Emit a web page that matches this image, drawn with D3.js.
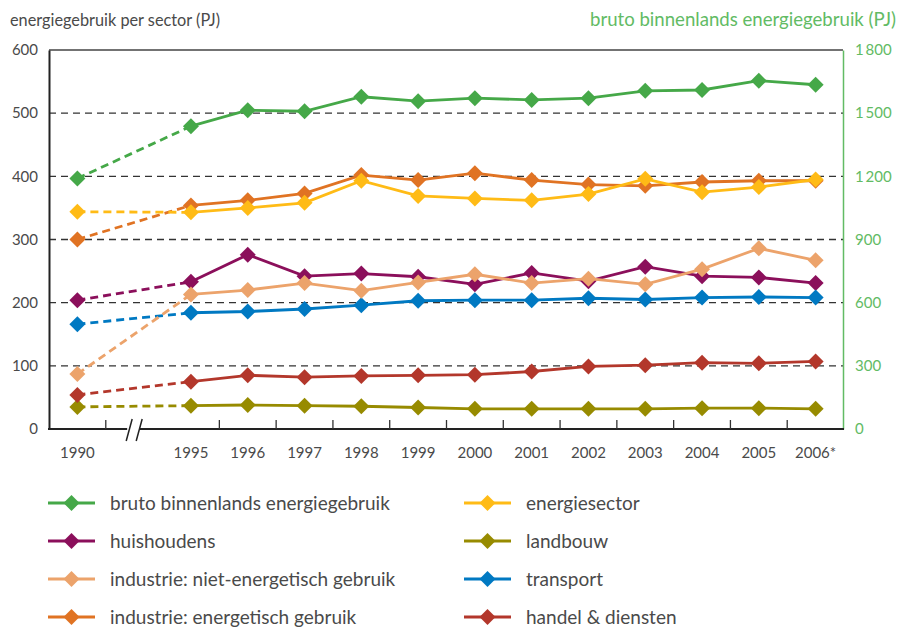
<!DOCTYPE html>
<html>
<head>
<meta charset="utf-8">
<script src="https://cdn.jsdelivr.net/npm/d3@7"></script>
<style>
  body { margin: 0; background: #fff; }
  text { font-family: Lato, "Noto Sans", sans-serif; }
</style>
</head>
<body>
<svg id="chart" width="898" height="628"></svg>
<script>
// categories on the x axis; "gap" is the empty slot where the axis is broken
var slots = ["1990", "gap", "1995", "1996", "1997", "1998", "1999", "2000", "2001", "2002", "2003", "2004", "2005", "2006*"];
var years = ["1990", "1995", "1996", "1997", "1998", "1999", "2000", "2001", "2002", "2003", "2004", "2005", "2006*"];

var leftTicks = [0, 100, 200, 300, 400, 500, 600];
var rightTicks = [0, 300, 600, 900, 1200, 1500, 1800];

// values in PJ (bruto on the right axis)
var bruto = [1190, 1438, 1514, 1509, 1578, 1557, 1571, 1563, 1571, 1606, 1610, 1654, 1635];
var energiesector = [344, 343, 350, 358, 393, 369, 365, 362, 372, 396, 375, 383, 395];
var huishoudens = [204, 233, 276, 242, 246, 241, 229, 247, 234, 257, 242, 240, 231];
var landbouw = [35, 37, 38, 37, 36, 34, 32, 32, 32, 32, 33, 33, 32];
var nietEnergetisch = [87, 213, 220, 231, 219, 232, 245, 231, 238, 229, 253, 286, 267];
var transport = [166, 184, 186, 190, 196, 203, 204, 204, 207, 205, 208, 209, 208];
var energetisch = [300, 354, 362, 373, 402, 394, 405, 394, 387, 385, 391, 393, 393];
var handel = [54, 75, 85, 82, 84, 85, 86, 91, 99, 101, 105, 104, 107];

var series = [
  { name: "bruto binnenlands energiegebruik", values: bruto, color: "#45a848", right: true },
  { name: "huishoudens", values: huishoudens, color: "#8b0f5b" },
  { name: "landbouw", values: landbouw, color: "#978b00" },
  { name: "handel & diensten", values: handel, color: "#b3372b" },
  { name: "transport", values: transport, color: "#0079c2" },
  { name: "industrie: energetisch gebruik", values: energetisch, color: "#e07323" },
  { name: "industrie: niet-energetisch gebruik", values: nietEnergetisch, color: "#eca36b" },
  { name: "energiesector", values: energiesector, color: "#ffbb16" }
];

var legendLeft = ["bruto binnenlands energiegebruik", "huishoudens", "industrie: niet-energetisch gebruik", "industrie: energetisch gebruik"];
var legendRight = ["energiesector", "landbouw", "transport", "handel & diensten"];

var svg = d3.select("#chart");
var textColor = "#4a4a4a";
var green = "#62bb64";

var x = d3.scaleBand().domain(slots).range([49, 844]).padding(0);
var y = d3.scaleLinear().domain([0, 600]).range([429, 50]);
var y2 = d3.scaleLinear().domain([0, 1800]).range([429, 50]);
var cx = function(c) { return x(c) + x.bandwidth() / 2; };

// titles
svg.append("text").attr("x", 10).attr("y", 26)
  .attr("font-size", 16.3).attr("fill", textColor)
  .text("energiegebruik per sector (PJ)");
svg.append("text").attr("x", 896).attr("y", 26)
  .attr("font-size", 18.6).attr("fill", green).attr("text-anchor", "end")
  .text("bruto binnenlands energiegebruik (PJ)");

// dashed grid lines
svg.append("g").selectAll("line")
  .data(leftTicks.filter(function(d) { return d > 0 && d < 600; }))
  .join("line")
  .attr("x1", 49).attr("x2", 843)
  .attr("y1", function(d) { return y(d); }).attr("y2", function(d) { return y(d); })
  .attr("stroke", "#333").attr("stroke-width", 1.3)
  .attr("stroke-dasharray", "7,5");

// top frame line
svg.append("line").attr("x1", 49).attr("x2", 843).attr("y1", y(600)).attr("y2", y(600))
  .attr("stroke", "#444").attr("stroke-width", 1.5);

// left axis
var leftAxis = svg.append("g").attr("transform", "translate(49,0)")
  .call(d3.axisLeft(y).tickValues(leftTicks).tickSize(0).tickPadding(11));
leftAxis.select(".domain").attr("stroke", "#222").attr("stroke-width", 2);
leftAxis.selectAll("text").attr("font-size", 15).attr("fill", textColor)
  .style("font-family", "Lato, 'Noto Sans', sans-serif");

// right axis
var rightAxis = svg.append("g").attr("transform", "translate(843,0)")
  .call(d3.axisRight(y2).tickValues(rightTicks).tickSize(0).tickPadding(12)
    .tickFormat(function(d) { return d3.format(",")(d).replace(",", "\u2009"); }));
rightAxis.select(".domain").attr("stroke", green).attr("stroke-width", 1.5);
rightAxis.selectAll("text").attr("font-size", 15).attr("fill", green)
  .style("font-family", "Lato, 'Noto Sans', sans-serif");

// bottom axis with ticks between the categories (none at the break)
svg.append("line").attr("x1", 48).attr("x2", 844).attr("y1", 429).attr("y2", 429)
  .attr("stroke", "#222").attr("stroke-width", 2);
var boundaries = slots.slice(1).map(function(s) { return x(s); }).filter(function(v, i) { return i !== 1; });
svg.append("g").selectAll("line").data(boundaries).join("line")
  .attr("x1", function(d) { return d; }).attr("x2", function(d) { return d; })
  .attr("y1", 429).attr("y2", 420)
  .attr("stroke", "#333").attr("stroke-width", 1.3);

// axis break mark
var bx = cx("gap");
svg.append("rect").attr("x", bx - 7).attr("y", 425).attr("width", 12).attr("height", 8).attr("fill", "#fff");
[-5, 5].forEach(function(o) {
  svg.append("line")
    .attr("x1", bx + o - 3).attr("y1", 441).attr("x2", bx + o + 3).attr("y2", 419)
    .attr("stroke", "#222").attr("stroke-width", 1.5);
});

svg.append("g").selectAll("text").data(years).join("text")
  .attr("x", function(d) { return cx(d); }).attr("y", 458)
  .attr("text-anchor", "middle").attr("font-size", 15).attr("fill", textColor)
  .text(function(d) { return d; });

// series
function diamond(g, px, py, r, color) {
  g.append("path")
    .attr("d", "M" + px + "," + (py - r) + "L" + (px + r) + "," + py + "L" + px + "," + (py + r) + "L" + (px - r) + "," + py + "Z")
    .attr("fill", color);
}

series.forEach(function(s) {
  var ys = s.right ? y2 : y;
  var pts = s.values.map(function(v, i) { return [cx(years[i]), ys(v)]; });
  var g = svg.append("g");
  g.append("path").attr("d", d3.line()(pts.slice(0, 2)))
    .attr("fill", "none").attr("stroke", s.color).attr("stroke-width", 2.8)
    .attr("stroke-dasharray", "8,5");
  g.append("path").attr("d", d3.line()(pts.slice(1)))
    .attr("fill", "none").attr("stroke", s.color).attr("stroke-width", 2.8);
  pts.forEach(function(p) { diamond(g, p[0], p[1], 8, s.color); });
});

// legend
function legendCol(names, lx, tx) {
  names.forEach(function(n, i) {
    var s = series.filter(function(d) { return d.name === n; })[0];
    var ly = 503 + i * 38;
    var g = svg.append("g");
    g.append("line").attr("x1", lx).attr("x2", lx + 47).attr("y1", ly).attr("y2", ly)
      .attr("stroke", s.color).attr("stroke-width", 3);
    diamond(g, lx + 23.5, ly, 8, s.color);
    g.append("text").attr("x", tx).attr("y", ly + 6.5)
      .attr("font-size", 19).attr("fill", textColor).text(n);
  });
}
legendCol(legendLeft, 48, 110);
legendCol(legendRight, 464, 526);
</script>
</body>
</html>
